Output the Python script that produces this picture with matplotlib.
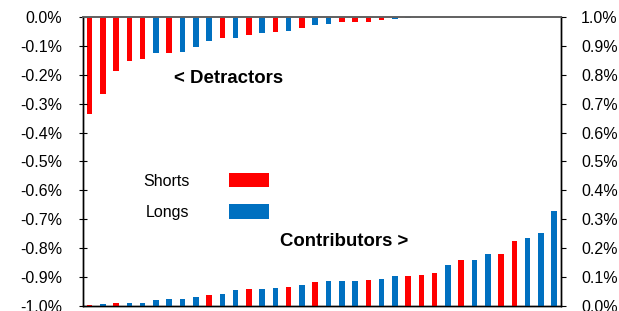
import numpy as np
import matplotlib
matplotlib.use("Agg")
import matplotlib.pyplot as plt
from matplotlib.ticker import FuncFormatter

plt.rcParams['font.family'] = ['Liberation Sans', 'DejaVu Sans']

# detractors (plotted down from the top, left axis), S = short, L = long
det_type = ['S', 'S', 'S', 'S', 'S', 'L', 'S', 'L', 'L', 'L', 'S', 'L', 'S',
            'L', 'S', 'L', 'S', 'L', 'L', 'S', 'S', 'S', 'S', 'L', 'L']
det_vals = [0.337, 0.266, 0.187, 0.152, 0.146, 0.124, 0.123, 0.121, 0.103,
            0.083, 0.072, 0.072, 0.061, 0.055, 0.052, 0.047, 0.037, 0.026,
            0.024, 0.018, 0.016, 0.016, 0.011, 0.006, 0.002]

# contributors (plotted up from the bottom, right axis)
con_type = ['S', 'L', 'S', 'L', 'L', 'L', 'L', 'L', 'L', 'S', 'L', 'L', 'S',
            'L', 'L', 'S', 'L', 'S', 'L', 'L', 'L', 'S', 'L', 'L', 'S', 'S',
            'S', 'L', 'S', 'L', 'L', 'S', 'S', 'L', 'L', 'L']
con_vals = [0.002, 0.007, 0.008, 0.009, 0.011, 0.021, 0.022, 0.024, 0.031,
            0.036, 0.041, 0.056, 0.059, 0.059, 0.062, 0.066, 0.072, 0.083,
            0.086, 0.086, 0.086, 0.090, 0.091, 0.102, 0.103, 0.107, 0.114,
            0.140, 0.159, 0.159, 0.179, 0.179, 0.224, 0.233, 0.252, 0.328]

colors = {'S': '#FF0000', 'L': '#0070C0'}
names = {'S': 'Shorts', 'L': 'Longs'}
width = 0.42

fig = plt.figure(figsize=(6.19, 3.11), dpi=100)
ax = fig.add_axes([0.134, 0.017, 0.772, 0.928])
ax2 = ax.twinx()

det_x = np.arange(len(det_vals))
con_x = np.arange(len(con_vals))
det_v = -np.array(det_vals)
con_v = np.array(con_vals)

handles = []
for t in ['S', 'L']:
    m = np.array(det_type) == t
    h = ax.bar(det_x[m], det_v[m], width, color=colors[t], label=names[t])
    handles.append(h)
    m2 = np.array(con_type) == t
    ax2.bar(con_x[m2], con_v[m2], width, color=colors[t])

ax.set_xlim(-0.5, len(con_vals) - 0.5)
ax.set_ylim(-1.0, 0)
ax2.set_ylim(0, 1.0)
ax.set_yticks(np.arange(-1.0, 0.01, 0.1))
ax2.set_yticks(np.arange(0, 1.01, 0.1))
ax.yaxis.set_major_formatter(FuncFormatter(lambda v, p: f'{v:.1f}%'.replace('-0.0', '0.0')))
ax2.yaxis.set_major_formatter(FuncFormatter(lambda v, p: f'{v:.1f}%'))
ax.set_xticks([])

for a in (ax, ax2):
    a.spines['top'].set_color('#606060')
    a.spines['top'].set_linewidth(1.2)
    for s in ('left', 'right', 'bottom'):
        a.spines[s].set_color('black')
        a.spines[s].set_linewidth(1.0)

ax.tick_params(axis='y', direction='inout', length=6, width=0.8, labelsize=11.5, pad=12)
ax2.tick_params(axis='y', direction='out', length=3.6, width=0.8, labelsize=11.5, pad=11)

ax.text(0.190, 0.770, '< Detractors', transform=ax.transAxes, fontsize=13.4,
        fontweight='bold', ha='left', va='baseline')
ax.text(0.412, 0.207, 'Contributors >', transform=ax.transAxes, fontsize=13.4,
        fontweight='bold', ha='left', va='baseline')

ax.legend(handles=handles, loc='upper left', bbox_to_anchor=(0.126, 0.46),
          frameon=False, markerfirst=False, fontsize=11.5, handlelength=2.5,
          handleheight=1.0, handletextpad=2.5, labelspacing=0.98, borderpad=0,
          borderaxespad=0)

fig.savefig('out.png', dpi=100)
